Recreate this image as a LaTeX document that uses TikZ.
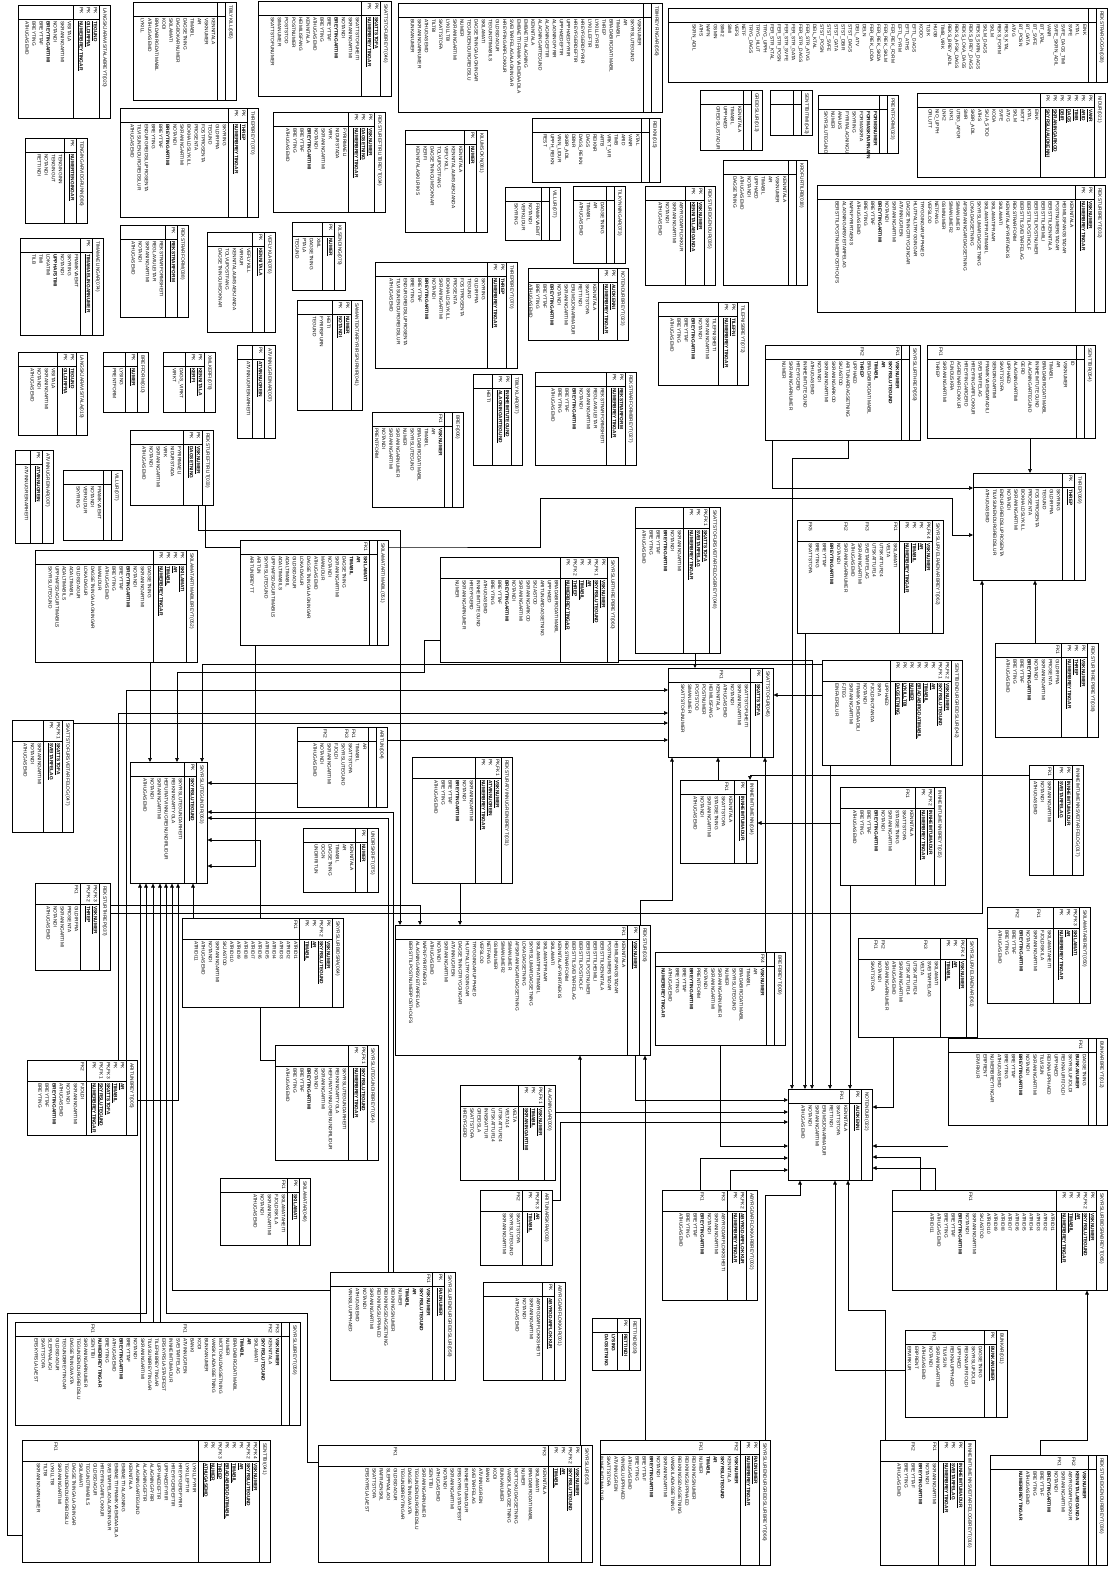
\documentclass[tikz,border=0pt]{standalone}
\usepackage{fontspec}
\setmainfont{Liberation Sans}
\usetikzlibrary{arrows.meta,backgrounds}
\newcommand{\fs}{\fontsize{4.8}{7.1}\selectfont}
\newcommand{\uk}[1]{\textbf{\underline{#1}}}
\newcommand{\bk}[1]{\textbf{#1}}
\tikzset{
 tbox/.style={draw,line width=0.5pt,inner sep=0pt,fill=white},
 ttl/.style={rotate=-90,anchor=west,inner sep=0pt,font=\fs},
 txt/.style={rotate=-90,anchor=north west,inner sep=0pt,align=left,font=\fs},
 fk/.style={draw,line width=0.6pt,-{Triangle[length=4pt,width=3.6pt]}},
 sepl/.style={line width=0.4pt}
}
% \tb[lh]{name}{x1}{y1}{x2}{y2}{title}{{kw}{keylabels}{keys}}{{fklabels}{attrs}}
\newcommand{\tb}[9][14]{%
 \def\tbXa{#3}\def\tbYa{#4}\def\tbXb{#5}\def\tbYb{#6}\def\tbLH{#1}%
 \node[tbox,minimum width={(#5-#3)*1pt},minimum height={(#6-#4)*1pt},anchor=north west] (#2) at (#3,#4) {};
 \draw[sepl] (#5-11,#4) -- (#5-11,#6);
 \node[ttl] at (#5-5.5,#4+3) {#7};
 \tbkeys#8\tbattrs#9}
\def\tbkeys#1#2#3{\def\tbKW{#1}%
 \draw[sepl] (\tbXb-11-#1,\tbYa) -- (\tbXb-11-#1,\tbYb);
 \draw[sepl] (\tbXa,\tbYa+\tbLH) -- (\tbXb-11,\tbYa+\tbLH);
 \node[txt] at (\tbXb-12.5,\tbYa+2) {#2};
 \node[txt] at (\tbXb-12.5,\tbYa+\tbLH+2) {#3};}
\def\tbattrs#1#2{%
 \node[txt] at (\tbXb-12.5-\tbKW,\tbYa+2) {#1};
 \node[txt] at (\tbXb-12.5-\tbKW,\tbYa+\tbLH+2) {#2};}
\begin{document}
\begin{tikzpicture}[x=1pt,y=-1pt]
\useasboundingbox (0,0) rectangle (1112,1574);
% ---------------- tables ----------------
\tb{t020}{18}{5}{110}{118}{LANGSKJARAVISITALABREYT(020)}{{26}{PK\\PK\\PK}{\uk{TEGUND}\\\uk{GILDIRFRA}\\\uk{NUMERBREYTINGAR}}}{{}{VISITALA\\SKRANINGARTIMI\\NOTANDI\\\bk{BREYTINGARTIMI}\\BREYTTAF\\BREYTING\\ATHUGASEMD}}
\tb{t085}{133}{2}{236}{100}{TBILYKILL(085)}{{8}{}{}}{{}{KENNITALA\\VSKNUMER\\AR\\TIMABIL\\DAGSETNING\\DAGBOKARNUMER\\SKILAMATI\\KODI\\BRADABIRGDATIMABIL\\ATHUGASEMD\\LYKILL}}
\tb{t046}{258}{1}{391}{96}{SKATTSTOFUBREYT(046)}{{19}{PK\\PK}{\uk{SKATTSTOFA}\\\uk{NUMERBREYTINGAR}}}{{}{SKATTSTOFUHEITI\\SKRANINGARTIMI\\NOTANDI\\\bk{BREYTINGARTIMI}\\BREYTTAF\\BREYTING\\ATHUGASEMD\\KENNITALA\\HEIMILISFANG\\POSTNUMER\\POSTSTOD\\SIMANUMER\\SKATTSTOFUNUMER}}
\tb{t056}{398}{3}{662}{112}{TBIHREYFINGAR(056)}{{8}{}{}}{{}{VSKNUMER\\SKYRSLUTEGUND\\AR\\TIMABIL\\BRADABIRGDATIMABIL\\THREP\\LYKILLFYRIR\\LYKILLEFTIR\\HREYFGERDFYRIR\\HREYFGERDEFTIR\\UPPHAEDFYRIR\\UPPHAEDEFTIR\\ALAGNINGFYRIR\\ALAGNINGEFTIR\\ALAGNINGARTEGUND\\KENNITALA\\EMBAETTIALAGNING\\EMBAETTIFRAMKVAEMDAADILA\\SVEITARFELAGALAGNINGAR\\HREYFINGARFLOKKUR\\GILDISDAGUR\\TEGUNDTIMABILS\\SKILAMATI\\DAGSETNINGALAGNINGAR\\TEGUNDENDURGREIDSLU\\NUMER\\SKRANINGARTIMI\\LYKILLTBI\\SKATTSTOFA\\TILTBI\\ATHUGASEMD\\SKRANINGARNUMER\\BUNKANUMER}}
\tb{t028}{668}{8}{1107}{82}{REKSTRARGOGN(028)}{{8}{}{}}{{}{EINK\\KTAL\\SVFE\\SVFE\_DAGS\_TIMI\\SVFE\_SKRN\_ADIL\\VANR\\BT\_KTAL\\BT\_SVFE\\BT\_GATA\\BT\_POSN\\ATVG\\REKS\_KTAL\\REKS\_FORM\\SKLM\\SKLM\_DAGS\\REKS\_SKRN\_DAGS\\REKS\_BREY\_DAGS\\REKS\_LOKA\_DAGS\\REKS\_AFSK\_DAGS\\REKS\_BREY\_ADIL\\TIMB\_VIRK\\HUGB\\TLSK\\KODO\\EFTL\_DAGS\\EFTL\_ATHS\\EFTL\_FYRM\\FER\_REK\_FORM\\FER\_REK\_SKLM\\FER\_REK\_SKDA\\FER\_REK\_LODA\\DELN\\DEIL\_ATV\\STST\_DAGS\\STST\_DBIR\\STST\_GATA\\STST\_SVFE\\STST\_POSN\\DEIL\_KTAL\\FER\_STR\_ATVG\\FER\_STR\_DAGS\\FER\_STR\_GATA\\FER\_STR\_SVFE\\FER\_STR\_POSN\\FER\_STR\_KTAL\\TRYG\_UPPH\\TRYG\_HLUT\\TRYG\_DAGS\\NETF\\VEFS\\SIMI\\SIMI2\\GSMN\\NAFN\\ATHS\\SKRN\_ADIL}}
\tb{t021}{917}{93}{1105}{177}{NIDUR(021)}{{54}{PK\\PK\\PK\\PK\\PK\\PK\\PK}{\uk{VANR}\\\uk{ARID}\\\uk{TIMB}\\\uk{DAGS}\\\uk{DBIR}\\\uk{SKRANINGARKOD}\\\uk{SKYRSLUAUDKENNI}}}{{}{EINK\\KTAL\\MOTT\\SKLM\\ATVG\\SVFE\\KODA\\SKJA\_STOD\\ATHS\\SKBR\_ADIL\\SMR\\UTBG\_AFGR\\LNK1\\LNK2\\NIO\_UPPH\\ORLUTT}}
\tb{t023}{818}{95}{898}{153}{PRENTFORM(023)}{{8}{}{}}{{}{\bk{FORMSNUMER}\\\bk{FORMASKRARNAFN}\\FORMASKRA\\SKYRING\\FYRIRALAGNINGU\\ANALKS\\NUMER\\SKYRSLUTEGUND}}
\tb{t043}{770}{90}{812}{135}{SENTTBITIMI(043)}{{8}{}{}}{{}{}}
\tb{t013}{700}{90}{762}{150}{GREIDSLUR(013)}{{8}{}{}}{{}{KENNITALA\\TIMABIL\\UPPHAED\\GREIDSLUSTADUR}}
\tb{t018}{723}{160}{807}{285}{KROFURTILRB(018)}{{8}{}{}}{{}{KENNITALA\\VSKNUMER\\AR\\TIMABIL\\UPPHAED\\NOTANDI\\ATHUGASEMD\\DAGSETNING}}
\tb{t035}{645}{186}{715}{285}{REKSTUREIGENDUR(035)}{{19}{PK\\PK}{\uk{VSKNUMER}\\\uk{KENNITALAEIGANDA}}}{{}{ABYRGDARFLOKKUR\\SKRANINGARTIMI\\NOTANDI\\ATHUGASEMD}}
\tb{t032}{817}{185}{1105}{312}{REKSTURBREYT(032)}{{19}{PK\\PK}{\uk{VSKNUMER}\\\uk{NUMERBREYTINGAR}}}{{}{KENNITALA\\HEIMILISFANGSTADAR\\POSTNUMERSTADAR\\BERSTTILKENNITALA\\BERSTTILHEIMILI\\BERSTTILPOSTNUMER\\BERSTTILPOSTHOLF\\BERSTTILSVEITARFELAG\\REKSTRARFORM\\KENNITALAFYRIRTAEKIS\\SKILAMATI\\SKILAMATIFRAAR\\SKILAMATIFRATIMABIL\\SKYRSLUMARDAGSETNING\\LOKADAGSETNING\\AFSKRANINGARDAGSETNING\\SIMANUMER\\SIMANUMER2\\GSMNUMER\\NETFANG\\VEFSLOD\\TRYGGINGARUPPHAED\\HLUTFALLTRYGGINGAR\\DAGSETNINGTRYGGINGAR\\ATVINNUGREIN\\SKRANINGARTIMI\\NOTANDI\\\bk{BREYTINGARTIMI}\\BREYTTAF\\BREYTING\\ATHUGASEMD\\NAFNFYRIRTAEKIS\\ALAGNINGARSVEITARFELAG\\BERSTTILPOSTNUMERPOSTHOLFS}}
\tb{t072}{658}{302}{748}{385}{TILEFNISBREYT(072)}{{19}{PK\\PK}{\uk{TILEFNI}\\\uk{NUMERBREYTINGAR}}}{{}{TILEFNISHEITI\\SKRANINGARTIMI\\NOTANDI\\\bk{BREYTINGARTIMI}\\BREYTTAF\\BREYTING\\ATHUGASEMD}}
\tb{t086}{25}{138}{87}{223}{TENGINGARVIDGRUNN(086)}{{12}{PK}{\uk{NUMERTENGINGAR}}}{{}{TENGINGINN\\TENGINGUT\\NOTANDI\\RETTINDI}}
\tb{t070}{120}{108}{258}{217}{THREPBREYT(070)}{{19}{PK\\PK}{\uk{THREP}\\\uk{NUMERBREYTINGAR}}}{{}{SKYRING\\GILDIRFRA\\TEGUND\\FOSTPROSENTA\\PROSENTA\\BOKHALDSLYKILL\\SKRANINGARTIMI\\NOTANDI\\\bk{BREYTINGARTIMI}\\BREYTTAF\\BREYTING\\ENDURGREIDSLUPROSENTA\\TILVISUNENDURGREIDSLUR\\ATHUGASEMD}}
\tb{t034}{273}{112}{385}{212}{REKSTUREFTIRLITBREYT(034)}{{26}{PK\\PK\\PK}{\uk{VSKNUMER}\\\uk{DAGSETNING}\\\uk{NUMERBREYTINGAR}}}{{}{FYRIRMAELI\\NIDURSTADA\\VIRK\\SKRANINGARTIMI\\NOTANDI\\\bk{BREYTINGARTIMI}\\BREYTTAF\\BREYTING\\ATHUGASEMD}}
\tb{t081}{405}{130}{487}{232}{KILUMSOKN(081)}{{12}{PK}{\uk{NUMER}}}{{}{KENNITALA\\KENNITALAUMSAEKJANDA\\VEFLYKILL\\TOLVUPOSTFANG\\DAGSETNINGUMSOKNAR\\KERFI\\KENNITALASKILRIKIS}}
\tb{t015}{532}{118}{660}{182}{REIKNI(015)}{{8}{}{}}{{}{KTAL\\VANR\\ARID\\TIMB\\VRKT\_VIR\\ARTB\\REIKNR\\DAGS\\DAGS\_REIKN\\DBNR\\SKBR\_ADIL\\VINN\_LIDUR\\UPPH\_REIKN\\REST}}
\tb{t077a}{505}{187}{560}{240}{VILLUR(077)}{{8}{}{}}{{}{FRAMKVAEMT\\NOTANDI\\VERKLIDUR\\SKYRING}}
\tb{t073}{573}{186}{625}{263}{TILKYNNINGAR(073)}{{8}{}{}}{{}{DAGSETNING\\AR\\TIMABIL\\ATHUGASEMD}}
\tb{t023b}{528}{268}{628}{340}{NOTENDURBREYT(023)}{{19}{PK\\PK}{\uk{AUDKENNI}\\\uk{NUMERBREYTINGAR}}}{{}{KENNITALA\\SKATTSTOFA\\RETTINDI\\ERUMSJONARMADUR\\SKRANINGARTIMI\\NOTANDI\\\bk{BREYTINGARTIMI}\\BREYTTAF\\BREYTING\\ATHUGASEMD}}
\tb{t070b}{375}{262}{517}{368}{THREPBREYT(070)}{{19}{PK\\PK}{\uk{THREP}\\\uk{NUMERBREYTINGAR}}}{{}{SKYRING\\GILDIRFRA\\TEGUND\\FOSTPROSENTA\\PROSENTA\\BOKHALDSLYKILL\\SKRANINGARTIMI\\NOTANDI\\\bk{BREYTINGARTIMI}\\BREYTTAF\\BREYTING\\ENDURGREIDSLUPROSENTA\\TILVISUNENDURGREIDSLUR\\ATHUGASEMD}}
\tb{t041s}{297}{300}{362}{410}{SAMANTEKTARFYRIRSPURNIR(041)}{{19}{PK\\PK}{\uk{NUMER}\\\uk{NOTANDI}}}{{}{HEITI\\FYRIRSPURN\\TEGUND}}
\tb{t079}{292}{222}{345}{290}{KILSENDING(079)}{{12}{PK}{\uk{NUMER}}}{{}{XML\\DAGSETNING\\PTALA\\TEGUND}}
\tb{t074}{20}{238}{103}{335}{TIMAMAELINGAR(074)}{{12}{PK}{\uk{TIMAMAELINGARNUMER}}}{{}{FRAMKVAEMT\\SKYRING\\NOTANDI\\\bk{UPPHAFSTIMI}\\LOKATIMI\\TIMI\\TILB}}
\tb{t038}{120}{225}{188}{317}{REKSTRARFORM(038)}{{12}{PK}{\uk{REKSTRARFORM}}}{{}{REKSTRARFORMSHEITI\\REGLAVIULEITAR\\SKRANINGARTIMI\\NOTANDI\\ATHUGASEMD}}
\tb{t076}{207}{232}{275}{332}{VEFLYKLAR(076)}{{12}{PK}{\uk{KENNITALA}}}{{}{VEFLYKILL\\VIRKUR\\KENNITALAUMSAEKJANDA\\TOLVUPOSTFANG\\DAGSETNINGUMSOKNAR}}
\tb{t019}{18}{352}{87}{435}{LANGSKJARAVISITALA(019)}{{19}{PK\\PK}{\uk{TEGUND}\\\uk{GILDIRFRA}}}{{}{VISITALA\\SKRANINGARTIMI\\NOTANDI\\ATHUGASEMD}}
\tb{t010}{103}{352}{148}{412}{BREFFORM(010)}{{12}{PK}{\uk{NUMER}}}{{}{LYSING\\PRENTFORM}}
\tb{t078}{163}{352}{215}{412}{XMLKERFI(078)}{{19}{PK\\PK}{\uk{KENNITALA}\\\uk{KERFI}}}{{}{DAGS\_VIRKT\\VIRKT}}
\tb{t007a}{237}{345}{275}{438}{ATVINNUGREINAR(007)}{{12}{PK}{\uk{ATVINNUGREIN}}}{{}{ATVINNUGREINARHEITI}}
\tb{t033}{130}{430}{213}{505}{REKSTUREFTIRLIT(033)}{{19}{PK\\PK}{\uk{VSKNUMER}\\\uk{DAGSETNING}}}{{}{FYRIRMAELI\\NIDURSTADA\\VIRK\\SKRANINGARTIMI\\NOTANDI\\ATHUGASEMD}}
\tb{t007b}{15}{450}{53}{543}{ATVINNUGREINAR(007)}{{12}{PK}{\uk{ATVINNUGREIN}}}{{}{ATVINNUGREINARHEITI}}
\tb{t077b}{63}{470}{122}{540}{VILLUR(077)}{{8}{}{}}{{}{FRAMKVAEMT\\NOTANDI\\VERKLIDUR\\SKYRING}}
\tb{t052}{35}{550}{197}{662}{SKILAMATARTIMABILBREYT(052)}{{33}{PK\\PK\\PK\\PK}{\uk{SKILAMATI}\\\uk{AR}\\\uk{TIMABIL}\\\uk{NUMERBREYTINGAR}}}{{}{DAGSETNING\\SKRANINGARTIMI\\NOTANDI\\\bk{BREYTINGARTIMI}\\BREYTTAF\\BREYTING\\ATHUGASEMD\\MANUDUR\\DAGSETNINGALAGNINGAR\\LOKADAGUR\\GILDISDAGUR\\ADALTIMABIL\\ADALTIMABILS\\UPPHAFSDAGURTIMABILS\\SKYRSLUTEGUND}}
\tb{t051}{240}{540}{388}{645}{SKILAMATARTIMABIL(051)}{{8}{}{}}{{FK1}{\bk{SKILAMATI}\\\bk{AR}\\\bk{TIMABIL}\\DAGSETNING\\SKRANINGARTIMI\\NOTANDI\\MANUDUR\\ATHUGASEMD\\DAGSETNINGALAGNINGAR\\LOKADAGUR\\GILDISDAGUR\\ADALTIMABIL\\ADALTIMABILS\\UPPHAFSDAGURTIMABILS\\SKYRSLUTEGUND\\ARITUN\\ARITUNBREYTT}}
\tb{t087}{473}{374}{522}{465}{TBILYKLAR(087)}{{19}{PK\\PK}{\uk{INNHEIMTUTEGUND}\\\uk{ALAGNINGARTEGUND}}}{{}{HEITI}}
\tb{t027}{535}{372}{636}{465}{REKSTRARFORMBREYT(027)}{{19}{PK\\PK}{\uk{REKSTRARFORM}\\\uk{NUMERBREYTINGAR}}}{{}{REKSTRARFORMSHEITI\\REGLAVIULEITAR\\SKRANINGARTIMI\\NOTANDI\\\bk{BREYTINGARTIMI}\\BREYTTAF\\BREYTING\\ATHUGASEMD}}
\tb{t006}{372}{412}{463}{507}{BREF(006)}{{8}{}{}}{{FK1}{\bk{VSKNUMER}\\AR\\TIMABIL\\BRADABIRGDATIMABIL\\SKYRSLUTEGUND\\NUMER\\SKRANINGARNUMER\\SKRANINGARTIMI\\NOTANDI\\PRENTFORM}}
\tb[21]{t060}{440}{557}{618}{662}{SKYRSLURTHREPBREYT(060)}{{47}{PK\\PK,FK1\\PK\\PK\\PK,FK2\\PK}{\uk{VSKNUMER}\\\uk{SKYRSLUTEGUND}\\\uk{AR}\\\uk{TIMABIL}\\\uk{THREP}\\\uk{NUMERBREYTINGAR}}}{{}{BRADABIRGDATIMABIL\\UPPHAED\\ARITUNARDAGSETNING\\SKJASTOD\\SKRANINGARKOD\\SKRANINGARTIMI\\NOTANDI\\\bk{BREYTINGARTIMI}\\BREYTTAF\\BREYTING\\ATHUGASEMD\\INNHEIMTUTEGUND\\HREYFGERD\\SKRANINGARNUMER\\NUMER}}
\tb[21]{t048}{635}{507}{720}{653}{SKATTSTOFURSVEITARFELOGBREYT(048)}{{26}{PK,FK1\\PK\\PK}{\uk{SKATTSTOFA}\\\uk{SVEITARFELAG}\\\uk{NUMERBREYTINGAR}}}{{}{SKRANINGARTIMI\\NOTANDI\\\bk{BREYTINGARTIMI}\\BREYTTAF\\BREYTING\\ATHUGASEMD}}
\tb{t045}{668}{668}{773}{757}{SKATTSTOFUR(045)}{{12}{PK}{\uk{SKATTSTOFA}}}{{~\\~\\~\\~\\FK1}{SKATTSTOFUHEITI\\SKRANINGARTIMI\\NOTANDI\\ATHUGASEMD\\KENNITALA\\HEIMILISFANG\\POSTNUMER\\POSTSTOD\\SIMANUMER\\SKATTSTOFUNUMER}}
\tb{t059}{765}{345}{920}{440}{SKYRSLURTHREP(059)}{{8}{}{}}{{FK1\\~\\~\\~\\~\\FK2}{\bk{VSKNUMER}\\\bk{SKYRSLUTEGUND}\\\bk{AR}\\\bk{TIMABIL}\\BRADABIRGDATIMABIL\\\bk{THREP}\\UPPHAED\\ARITUNARDAGSETNING\\SKJASTOD\\SKRANINGARKOD\\SKRANINGARTIMI\\NOTANDI\\ATHUGASEMD\\INNHEIMTUTEGUND\\HREYFGERD\\SKRANINGARNUMER\\NUMER}}
\tb{t054}{927}{345}{1095}{438}{SENTTBR(054)}{{8}{}{}}{{~\\~\\~\\~\\~\\~\\~\\~\\~\\~\\~\\~\\~\\~\\~\\~\\~\\~\\~\\FK1}{ID\\VSKNUMER\\AR\\TIMABIL\\BRADABIRGDATIMABIL\\INNHEIMTUTEGUND\\ALAGNINGARTEGUND\\GERD\\ALAGNINGARTIMI\\UPPHAED\\SKATTSTOFA\\SENDINGARTIMI\\FRAMKVAEMDARADILI\\SVEITARFELAG\\HREYFINGARFLOKKUR\\HREYFINGARGERD\\AGREINARFLOKKUR\\FUNDUSKRA\\SKRANINGARTIMI\\THREP}}
\tb{t069}{973}{473}{1085}{580}{THREP(069)}{{12}{PK}{\uk{THREP}}}{{}{SKYRING\\GILDIRFRA\\TEGUND\\FOSTPROSENTA\\PROSENTA\\BOKHALDSLYKILL\\SKRANINGARTIMI\\NOTANDI\\ENDURGREIDSLUPROSENTA\\TILVISUNENDURGREIDSLUR\\ATHUGASEMD}}
\tb[21]{t062}{797}{520}{943}{633}{SKYRSLURVELRAENARBREYT(062)}{{33}{PK,FK4\\PK\\PK\\PK}{\uk{VSKNUMER}\\\uk{AR}\\\uk{TIMABIL}\\\uk{NUMERBREYTINGAR}}}{{FK1\\~\\~\\~\\FK3\\~\\~\\FK2\\~\\~\\~\\~\\FK5}{SKILAMATI\\VELTA\\UTSKATTUR24\\UTSKATTUR14\\SVEITARFELAG\\SKRANINGARTIMI\\ATHUGASEMD\\SKRANINGARNUMER\\NOTANDI\\\bk{BREYTINGARTIMI}\\BREYTTAF\\BREYTING\\SKATTSTOFA}}
\tb{t038b}{995}{643}{1098}{737}{REKSTURTHREPBREYT(038)}{{26}{PK\\PK\\PK}{\uk{VSKNUMER}\\\uk{THREP}\\\uk{NUMERBREYTINGAR}}}{{FK1}{GILDIRFRA\\PROSENTA\\SKRANINGARTIMI\\NOTANDI\\\bk{BREYTINGARTIMI}\\BREYTTAF\\BREYTING\\ATHUGASEMD}}
\tb[21]{t042}{822}{660}{962}{765}{SENTTBENDURGREIDSLUR(042)}{{61}{PK,FK2\\PK,FK1\\PK\\PK\\PK\\PK\\PK\\PK}{\uk{VSKNUMER}\\\uk{SKYRSLUTEGUND}\\\uk{AR}\\\uk{TIMABIL}\\\uk{BRADABIRGDATIMABIL}\\\uk{NUMER}\\\uk{LYKILLTBI}\\\uk{DAGSETNING}}}{{}{UPPHAED\\SKRA\\FJOLDINOTANDA\\NOTANDI\\FRAMKVAEMDAADILI\\SKRANINGARTIMI\\FJTEG\\EINFAERSLUR}}
\tb{t017}{1029}{765}{1083}{875}{INNHEIMTUMENNSVEITARFELOG(017)}{{19}{PK\\PK}{\uk{INNHEIMTUMADUR}\\\uk{SVEITARFELAG}}}{{FK1}{SKRANINGARTIMI\\NOTANDI\\ATHUGASEMD}}
\tb[21]{t015b}{840}{787}{945}{885}{INNHEIMTUMENNBREYT(015)}{{19}{PK,FK2\\PK}{\uk{INNHEIMTUMADUR}\\\uk{NUMERBREYTINGAR}}}{{~\\FK1}{KENNITALA\\SKATTSTOFA\\STADSETNING\\SKRANINGARTIMI\\NOTANDI\\\bk{BREYTINGARTIMI}\\BREYTTAF\\BREYTING\\ATHUGASEMD}}
\tb{t014}{680}{780}{757}{863}{INNHEIMTUMENN(014)}{{12}{PK}{\uk{INNHEIMTUMADUR}}}{{~\\FK1}{KENNITALA\\SKATTSTOFA\\STADSETNING\\SKRANINGARTIMI\\NOTANDI\\ATHUGASEMD}}
\tb[21]{t050}{987}{907}{1090}{1003}{SKILAMATARBREYT(050)}{{26}{PK,FK3\\PK\\PK}{\uk{SKILAMATI}\\\uk{AR}\\\uk{NUMERBREYTINGAR}}}{{~\\~\\FK1\\~\\~\\FK2}{SKILAMATAHEITI\\FJOLDISKILA\\SKRANINGARTIMI\\NOTANDI\\\bk{BREYTINGARTIMI}\\BREYTTAF\\BREYTING\\ATHUGASEMD}}
\tb[21]{t061}{858}{938}{977}{1037}{SKYRSLURVELRAENAR(061)}{{26}{PK,FK4\\PK\\PK}{\uk{VSKNUMER}\\\uk{AR}\\\uk{TIMABIL}}}{{~\\~\\FK3\\~\\~\\~\\~\\~\\FK2\\FK1}{SKILAMATI\\SVEITARFELAG\\VELTA\\UTSKATTUR24\\UTSKATTUR14\\SKRANINGARTIMI\\ATHUGASEMD\\SKRANINGARNUMER\\NOTANDI\\SKATTSTOFA}}
\tb{t009}{655}{952}{785}{1045}{BREFBREYT(009)}{{8}{}{}}{{FK4}{\bk{VSKNUMER}\\AR\\TIMABIL\\BRADABIRGDATIMABIL\\SKYRSLUTEGUND\\NUMER\\SKRANINGARNUMER\\SKRANINGARTIMI\\NOTANDI\\PRENTFORM\\\bk{BREYTINGARTIMI}\\BREYTTAF\\BREYTING\\ATHUGASEMD\\\bk{NUMERBREYTINGAR}}}
\tb{t012}{948}{1038}{1107}{1125}{BUNKARBREYT(012)}{{8}{}{}}{{~\\FK1}{DAGSETNING\\\bk{BUNKANUMER}\\SKYRSLUFJOLDI\\REIKNAURFJOLDI\\UPPHAED\\REIKNAUPPHAED\\TILVISUN\\SKRANINGARTIMI\\NOTANDI\\\bk{BREYTINGARTIMI}\\BREYTTAF\\BREYTING\\ATHUGASEMD\\NUMERBREYTINGAR\\ERPRENT\\ERVIRKUR}}
\tb{t022}{788}{1089}{872}{1180}{NOTENDUR(022)}{{12}{PK}{\uk{AUDKENNI}}}{{~\\FK1}{KENNITALA\\SKATTSTOFA\\RETTINDI\\ERUMSJONARMADUR\\SKRANINGARTIMI\\NOTANDI\\ATHUGASEMD}}
\tb[21]{t047}{12}{720}{73}{832}{SKATTSTOFURSVEITARFELOG(047)}{{19}{PK,FK1\\PK}{\uk{SKATTSTOFA}\\\uk{SVEITARFELAG}}}{{}{SKRANINGARTIMI\\NOTANDI\\ATHUGASEMD}}
\tb{t063}{130}{762}{207}{883}{SKYRSLUTEGUNDIR(063)}{{12}{PK}{\uk{SKYRSLUTEGUND}}}{{}{SKYRSLUTEGUNDARHEITI\\REIKNINGARTYGLA\\HEFURATVINNUGREINUNDIRLIDUR\\SKRANINGARTIMI\\NOTANDI\\ATHUGASEMD}}
\tb{t004}{297}{727}{387}{807}{ARITUN(004)}{{8}{}{}}{{~\\~\\FK1\\FK3\\~\\~\\FK2}{AR\\TIMABIL\\SKATTSTOFA\\SKYRSLUTEGUND\\FJOLDI\\SKRANINGARTIMI\\NOTANDI\\ATHUGASEMD}}
\tb[21]{t031}{412}{757}{512}{883}{REKSTURATVINNUGREINBREYT(031)}{{26}{PK,FK1\\PK\\PK}{\uk{VSKNUMER}\\\uk{ATVINNUGREIN}\\\uk{NUMERBREYTINGAR}}}{{}{SKRANINGARTIMI\\NOTANDI\\\bk{BREYTINGARTIMI}\\BREYTTAF\\BREYTING\\ATHUGASEMD}}
\tb{t075}{303}{828}{378}{892}{UNDIRSKRIFT(075)}{{12}{PK}{\uk{NUMER}}}{{}{KENNITALA\\AR\\TIMABIL\\DAGSETNING\\GOGN\\UNDIRRITUN}}
\tb[21]{t037}{35}{883}{110}{970}{REKSTURTHREP(037)}{{19}{PK,FK3\\PK,FK2}{\uk{VSKNUMER}\\\uk{THREP}}}{{FK1}{GILDIRFRA\\PROSENTA\\SKRANINGARTIMI\\NOTANDI\\ATHUGASEMD}}
\tb[21]{t064}{182}{918}{343}{1007}{SKYRSLURBIDSRA(064)}{{33}{PK\\PK,FK2\\PK\\PK}{\uk{VSKNUMER}\\\uk{SKYRSLUTEGUND}\\\uk{AR}\\\uk{TIMABIL}}}{{FK1}{ATRIDI1\\ATRIDI2\\ATRIDI3\\ATRIDI4\\ATRIDI5\\ATRIDI6\\ATRIDI7\\ATRIDI8\\ATRIDI9\\ATRIDI10\\SKJASTOD\\SKRANINGARTIMI\\NOTANDI\\ATHUGASEMD\\ATRIDI11}}
\tb{t026}{395}{925}{650}{1055}{REKSTUR(026)}{{12}{PK}{\uk{VSKNUMER}}}{{FK1}{KENNITALA\\HEIMILISFANGSTADAR\\POSTNUMERSTADAR\\BERSTTILKENNITALA\\BERSTTILHEIMILI\\BERSTTILPOSTNUMER\\BERSTTILPOSTHOLF\\BERSTTILSVEITARFELAG\\REKSTRARFORM\\KENNITALAFYRIRTAEKIS\\SKILAMATI\\SKILAMATIFRAAR\\SKILAMATIFRATIMABIL\\SKYRSLUMARDAGSETNING\\LOKADAGSETNING\\AFSKRANINGARDAGSETNING\\SIMANUMER\\SIMANUMER2\\GSMNUMER\\NETFANG\\VEFSLOD\\TRYGGINGARUPPHAED\\HLUTFALLTRYGGINGAR\\DAGSETNINGTRYGGINGAR\\ATVINNUGREIN\\SKRANINGARTIMI\\NOTANDI\\ATHUGASEMD\\NAFNFYRIRTAEKIS\\ALAGNINGARSVEITARFELAG\\BERSTTILPOSTNUMERPOSTHOLFS}}
\tb[21]{t005}{27}{1060}{137}{1135}{ARITUNBREYT(005)}{{40}{PK\\PK\\PK,FK3\\PK,FK1\\PK}{\uk{AR}\\\uk{TIMABIL}\\\uk{SKATTSTOFA}\\\uk{SKYRSLUTEGUND}\\\uk{NUMERBREYTINGAR}}}{{FK2}{FJOLDI\\SKRANINGARTIMI\\NOTANDI\\ATHUGASEMD\\\bk{BREYTINGARTIMI}\\BREYTTAF\\BREYTING}}
\tb[21]{t068}{275}{1045}{378}{1160}{SKYRSLUTEGUNDIRBREYT(064)}{{19}{PK,FK1\\PK}{\uk{SKYRSLUTEGUND}\\\uk{NUMERBREYTINGAR}}}{{}{SKYRSLUTEGUNDARHEITI\\REIKNINGARTYGLA\\HEFURATVINNUGREINUNDIRLIDUR\\SKRANINGARTIMI\\NOTANDI\\\bk{BREYTINGARTIMI}\\BREYTTAF\\BREYTING\\ATHUGASEMD}}
\tb[21]{t001b}{460}{1085}{555}{1180}{ALAGNINGAR(000)}{{26}{PK,FK1\\PK\\PK}{\uk{VSKNUMER}\\\uk{TIMABIL}\\\uk{SKRANINGARTIMI}}}{{}{VELTA\\VELTA14\\UTSKATTUR24\\UTSKATTUR14\\INNSKATTUR\\GREIDSLA\\SKATTSTOFA\\HREYFGERD}}
\tb[21]{t003}{480}{1190}{552}{1265}{ARITUNARSKRA(003)}{{19}{PK,FK3\\PK}{\uk{AR}\\\uk{TIMABIL}}}{{FK2}{SKATTSTOFA\\SKYRSLUTEGUND\\SKRANINGARTIMI}}
\tb{t049}{220}{1178}{310}{1245}{SKILAMATAR(049)}{{12}{PK}{\uk{SKILAMATI}}}{{FK1}{SKILAMATAHEITI\\FJOLDISKILA\\SKRANINGARTIMI\\NOTANDI\\ATHUGASEMD}}
\tb[21]{t002}{662}{1190}{757}{1300}{ABYRGDARFLOKKARBREYT(002)}{{19}{PK,FK2\\PK}{\uk{ABYRGDARFLOKKUR}\\\uk{NUMERBREYTINGAR}}}{{FK3\\~\\~\\FK1}{ABYRGDARFLOKKSHEITI\\SKRANINGARTIMI\\NOTANDI\\\bk{BREYTINGARTIMI}\\BREYTTAF\\BREYTING\\ATHUGASEMD}}
\tb[21]{t065}{892}{1190}{1107}{1290}{SKYRSLURBIDSRABREYT(065)}{{40}{PK\\PK,FK2\\PK\\PK\\PK}{\uk{VSKNUMER}\\\uk{SKYRSLUTEGUND}\\\uk{AR}\\\uk{TIMABIL}\\\uk{NUMERBREYTINGAR}}}{{~\\~\\~\\~\\~\\~\\~\\~\\~\\~\\~\\~\\FK1}{ATRIDI1\\ATRIDI2\\ATRIDI3\\ATRIDI4\\ATRIDI5\\ATRIDI6\\ATRIDI7\\ATRIDI8\\ATRIDI9\\ATRIDI10\\SKJASTOD\\SKRANINGARTIMI\\NOTANDI\\\bk{BREYTINGARTIMI}\\BREYTTAF\\BREYTING\\ATHUGASEMD\\ATRIDI11}}
\tb{t058}{330}{1272}{455}{1380}{SKYRSLURENDURGREIDSLUR(058)}{{12}{PK}{\uk{RADNUMER}}}{{FK1}{\bk{VSKNUMER}\\\bk{SKYRSLUTEGUND}\\\bk{AR}\\\bk{TIMABIL}\\NUMER\\REIKNINGSNUMER\\REIKNINGSDAGSETNING\\REIKNINGSUPPHAED\\SKRANINGARTIMI\\NOTANDI\\ATHUGASEMD\\VINNSLUUPPHAED}}
\tb{t001}{483}{1282}{565}{1380}{ABYRGDARFLOKKAR(001)}{{12}{PK}{\uk{ABYRGDARFLOKKUR}}}{{}{ABYRGDARFLOKKSHEITI\\SKRANINGARTIMI\\NOTANDI\\ATHUGASEMD}}
\tb{t039}{592}{1318}{640}{1370}{RETTINDI(039)}{{12}{PK}{\uk{RETTINDI}}}{{}{\bk{LYSING}\\\bk{DAGSETNING}}}
\tb{t011}{905}{1330}{1007}{1417}{BUNKAR(011)}{{12}{PK}{\uk{BUNKANUMER}}}{{~\\~\\~\\~\\~\\~\\~\\FK1}{DAGSETNING\\SKYRSLUFJOLDI\\REIKNAURFJOLDI\\UPPHAED\\REIKNAUPPHAED\\TILVISUN\\SKRANINGARTIMI\\NOTANDI\\ATHUGASEMD\\ERPRENT\\ERVIRKUR}}
\tb{t059b}{15}{1322}{300}{1425}{SKYRSLUBREYT(059)}{{8}{}{}}{{FK3\\FK2\\~\\~\\~\\~\\~\\~\\~\\~\\~\\~\\~\\FK1\\~\\~\\~\\~\\~\\~\\~\\~\\~\\~\\~\\~\\FK1}{\bk{VSKNUMER}\\KENNITALA\\\bk{SKYRSLUTEGUND}\\SKILAMATI\\\bk{AR}\\\bk{TIMABIL}\\BRADABIRGDATIMABIL\\NUMER\\MOTTOKUDAGSETNING\\VANSKILADAGSETNING\\BUNKANUMER\\KODI\\BANKI\\ATVINNUGREIN\\SVEITARFELAG\\INNHEIMTUMADUR\\ERSKYRSLASTADFEST\\TILEFNIBREYTINGAR\\TILVISUNBREYTINGAR\\SKRANINGARTIMI\\NOTANDI\\BREYTTAF\\\bk{BREYTINGARTIMI}\\ATHUGASEMD\\BREYTING\\\bk{NUMERBREYTINGAR}\\SENTTBI\\SKRANINGARNUMER\\TEGUNDENDURGREIDSLU\\DAGSETNINGVAXTA\\TEGUNDBREYTINGAR\\GILDISDAGUR\\SLEPPAALAGI\\SKATTSTOFA\\ERSKYRSLALAEST}}
\tb[21]{t041}{22}{1440}{270}{1562}{SENTTBI(041)}{{61}{PK,FK4\\PK,FK2\\PK\\PK\\PK\\PK,FK3\\PK\\PK}{\uk{VSKNUMER}\\\uk{SKYRSLUTEGUND}\\\uk{AR}\\\uk{TIMABIL}\\\uk{BRADABIRGDATIMABIL}\\\uk{THREP}\\\uk{NUMER}\\\uk{ATHUGASEMD}}}{{~\\~\\~\\~\\~\\~\\~\\~\\~\\~\\~\\~\\~\\~\\~\\~\\~\\~\\~\\~\\FK1}{LYKILLFYRIR\\LYKILLEFTIR\\HREYFGERDFYRIR\\HREYFGERDEFTIR\\UPPHAEDFYRIR\\UPPHAEDEFTIR\\ALAGNINGFYRIR\\ALAGNINGEFTIR\\ALAGNINGARTEGUND\\KENNITALA\\EMBAETTIALAGNING\\EMBAETTIFRAMKVAEMDAADILA\\SVEITARFELAGALAGNINGAR\\HREYFINGARFLOKKUR\\GILDISDAGUR\\TEGUNDTIMABILS\\SKILAMATI\\DAGSETNINGALAGNINGAR\\TEGUNDENDURGREIDSLU\\SKRANINGARTIMI\\LYKILLTBI\\TILTBI\\SKRANINGARNUMER}}
\tb[21]{t053}{318}{1445}{592}{1562}{SKYRSLUR(053)}{{33}{PK\\PK,FK2\\PK\\PK}{\uk{VSKNUMER}\\\uk{SKYRSLUTEGUND}\\\uk{AR}\\\uk{TIMABIL}}}{{FK3\\~\\~\\~\\~\\~\\~\\~\\~\\~\\~\\~\\~\\~\\~\\~\\~\\~\\~\\~\\~\\FK1}{KENNITALA\\SKILAMATI\\BRADABIRGDATIMABIL\\NUMER\\MOTTOKUDAGSETNING\\VANSKILADAGSETNING\\BUNKANUMER\\KODI\\BANKI\\ATVINNUGREIN\\SVEITARFELAG\\INNHEIMTUMADUR\\ERSKYRSLASTADFEST\\SKRANINGARTIMI\\NOTANDI\\ATHUGASEMD\\SENTTBI\\SKRANINGARNUMER\\TEGUNDENDURGREIDSLU\\DAGSETNINGVAXTA\\TEGUNDBREYTINGAR\\GILDISDAGUR\\SLEPPAALAGI\\RAFRAENSKIL\\SKATTSTOFA\\ERSKYRSLALAEST}}
\tb{t066}{600}{1440}{770}{1565}{SKYRSLURENDURGREIDSLURBREYT(066)}{{19}{PK\\PK}{\uk{RADNUMER}\\\uk{NUMERBREYTINGAR}}}{{FK2\\~\\~\\~\\~\\FK1}{\bk{VSKNUMER}\\KENNITALA\\\bk{SKYRSLUTEGUND}\\\bk{AR}\\\bk{TIMABIL}\\NUMER\\REIKNINGSNUMER\\REIKNINGSUPPHAED\\REIKNINGSDAGSETNING\\VANSKILADAGSETNING\\SKRANINGARTIMI\\NOTANDI\\\bk{BREYTINGARTIMI}\\BREYTTAF\\BREYTING\\ATHUGASEMD\\VINNSLUUPPHAED\\ATVINNUGREIN\\SKATTSTOFA\\INNHEIMTUMADUR}}
\tb[21]{t016}{880}{1440}{975}{1565}{INNHEIMTUMENNSVEITARFELOGBREYT(016)}{{26}{PK\\PK\\PK}{\uk{INNHEIMTUMADUR}\\\uk{SVEITARFELAG}\\\uk{NUMERBREYTINGAR}}}{{FK1\\~\\~\\FK2}{SKRANINGARTIMI\\NOTANDI\\\bk{BREYTINGARTIMI}\\BREYTTAF\\BREYTING\\ATHUGASEMD}}
\tb{t036}{990}{1455}{1107}{1565}{REKSTUREIGENDURBREYT(036)}{{8}{}{}}{{~\\~\\FK2\\~\\FK1}{\bk{VSKNUMER}\\\bk{KENNITALAEIGANDA}\\ABYRGDARFLOKKUR\\SKRANINGARTIMI\\NOTANDI\\\bk{BREYTINGARTIMI}\\BREYTTAF\\BREYTING\\ATHUGASEMD\\\bk{NUMERBREYTINGAR}}}
% ---------------- connectors ----------------
\begin{pgfonlayer}{background}
\fill[white] (0,0) rectangle (1112,1574);
% THREP
\draw[fk] (t059.south -| 772,0) |- (t069.west |- 0,488);
\draw[fk] (t054.south -| 1030,0) -- (t069.north -| 1030,0);
\draw[fk] (t038b.north -| 1035,0) -- (t069.south -| 1035,0);
\draw[fk] (t033.south -| 205,0) |- (396,547) -- (540,547) -- (540,498) -- (952,498) -- (952,535) -- (t069.west |- 0,535);
\draw[fk] (t037.east |- 0,913) -| (t069.south -| 982,0);
% SKATTSTOFUR
\draw[fk] (t048.south -| 695,0) -- (t045.north -| 695,0);
\draw[fk] (t047.east |- 0,723) -- (t045.west |- 0,723);
\draw[fk] (t004.east |- 0,740) -- (t045.west |- 0,740);
\draw[fk] (t005.north -| 118,0) |- (t045.west |- 0,713);
\draw[fk] (t005.north -| 126,0) |- (t045.west |- 0,690);
\draw[fk] (t014.north -| 718,0) -- (t045.south -| 718,0);
\draw[fk] (t042.west |- 0,695) -- (t045.east |- 0,695);
\draw[fk] (t026.north -| 640,0) |- (672,900) -- (t045.south -| 672,0);
\draw[fk] (t009.north -| 765,0) -- (t045.south -| 765,0);
% INNHEIMTUMENN
\draw[fk] (t015b.west |- 0,823) -- (t014.east |- 0,823);
\draw[fk] (t017.west |- 0,775) -| (t014.north -| 750,0);
% SKYRSLUTEGUNDIR
\draw[fk] (t052.south -| 150,0) -- (t063.north -| 150,0);
\draw[fk] (t060.west |- 0,640) -- (424,640) -- (424,672) -- (177,672) -- (t063.north -| 177,0);
\draw[fk] (t042.west |- 0,664) -- (202,664) -- (t063.north -| 202,0);
\draw[fk] (t004.west |- 0,783) -- (t063.east |- 0,783);
\draw[fk] (t051.south -| 255,0) |- (t063.east |- 0,866);
\draw[fk] (t068.west |- 0,1060) -- (260,1060) -- (260,840) -- (t063.east |- 0,840);
\draw[fk] (t058.north -| 388,0) -- (388,818) -- (t063.east |- 0,818);
\draw[fk] (t058.north -| 393,0) -- (393,812) -- (t063.east |- 0,812);
\draw[fk] (t059b.north -| 140,0) -- (t063.south -| 140,0);
\draw[fk] (t059b.north -| 153,0) -- (t063.south -| 153,0);
\draw[fk] (t059b.north -| 160,0) -- (t063.south -| 160,0);
\draw[fk] (t041.west |- 0,1535) -- (7,1535) -- (7,1313) -- (146,1313) -- (t063.south -| 146,0);
\draw[fk] (t053.west |- 0,1462) -- (307,1462) -- (307,1313) -- (166,1313) -- (t063.south -| 166,0);
\draw[fk] (t058.west |- 0,1290) -| (t063.south -| 172,0);
\draw[fk] (t005.east |- 0,1100) -| (t063.south -| 178,0);
\draw[fk] (t064.north -| 193,0) -- (t063.south -| 193,0);
% REKSTUR
\draw[fk] (t031.south -| 460,0) -- (t026.north -| 460,0);
\draw[fk] (t033.south -| 198,0) |- (400,530) -- (t026.north -| 400,0);
\draw[fk] (t037.east |- 0,905) -| (t026.north -| 420,0);
\draw[fk] (t053.north -| 580,0) -- (t026.south -| 580,0);
\draw[fk] (t066.north -| 645,0) -- (t026.south -| 645,0);
% NOTENDUR
\draw[fk] (t059.south -| 848,0) -- (848,458) -- (792,458) -- (t022.north -| 792,0);
\draw[fk] (t062.south -| 805,0) -- (t022.north -| 805,0);
\draw[fk] (t060.east |- 0,660) -| (t022.north -| 812,0);
\draw[fk] (t042.south -| 830,0) -- (t022.north -| 830,0);
\draw[fk] (t015b.south -| 850,0) -- (t022.north -| 850,0);
\draw[fk] (t061.south -| 893,0) |- (t022.east |- 0,1107);
\draw[fk] (t012.west |- 0,1146) -- (t022.east |- 0,1146);
\draw[fk] (t065.north -| 920,0) |- (t022.east |- 0,1157);
\draw[fk] (t065.north -| 935,0) |- (t022.east |- 0,1168);
\draw[fk] (t026.south -| 635,0) |- (t022.west |- 0,1100);
\draw[fk] (t001b.east |- 0,1112) -- (t022.west |- 0,1112);
\draw[fk] (t003.east |- 0,1200) -- (560,1200) -- (560,1122) -- (t022.west |- 0,1122);
\draw[fk] (t009.south -| 720,0) |- (t022.west |- 0,1146);
\draw[fk] (t002.north -| 700,0) |- (t022.west |- 0,1158);
\draw[fk] (t002.north -| 730,0) |- (t022.west |- 0,1170);
\draw[fk] (t066.north -| 765,0) |- (800,1195) -- (t022.south -| 800,0);
\draw[fk] (t011.west |- 0,1370) -| (t022.south -| 835,0);
\draw[fk] (t016.north -| 885,0) -- (885,1310) -- (848,1310) -- (t022.south -| 848,0);
% others
\draw[fk] (t036.north -| 1040,0) |- (1087,1440) -- (t065.south -| 1087,0);
\end{pgfonlayer}
\end{tikzpicture}
\end{document}
